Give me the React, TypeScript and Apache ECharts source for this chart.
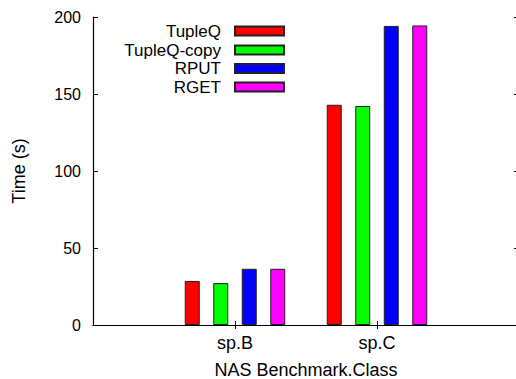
import React, { useEffect, useRef } from "react";
import * as echarts from "echarts";

const categories = ["sp.B", "sp.C"];
const seriesNames = ["TupleQ", "TupleQ-copy", "RPUT", "RGET"];
const tupleQ = [28.6, 143.0];
const tupleQCopy = [27.2, 142.2];
const rput = [36.5, 194.2];
const rget = [36.5, 194.5];
const yTicks = [0, 50, 100, 150, 200];
const colors = ["#ff0000", "#00ff00", "#0000ff", "#ff00ff"];

const FONT = "Liberation Sans";

export default function App() {
  const ref = useRef<HTMLDivElement>(null);
  useEffect(() => {
    if (!ref.current) return;
    const chart = echarts.init(ref.current, undefined, { renderer: "svg" });
    const cats = ["", ...categories, ""];
    const values = [tupleQ, tupleQCopy, rput, rget];
    const legendCenters = [31, 50, 68.5, 87];
    const tickShow = (_i: number, v: string) => v !== "";
    chart.setOption({
      animation: false,
      backgroundColor: "#ffffff",
      textStyle: { fontFamily: FONT },
      grid: { left: 93, top: 17, width: 426, height: 308, containLabel: false, outerBoundsMode: "none" },
      legend: seriesNames.map((n, i) => ({
        data: [n],
        right: 231,
        top: legendCenters[i] - 9,
        padding: 0,
        orient: "vertical",
        align: "right",
        icon: "rect",
        itemWidth: 49,
        itemHeight: 9,
        selectedMode: false,
        textStyle: { fontFamily: FONT, fontSize: 17, color: "#000", lineHeight: 18, padding: [0, 9, 0, 0] },
      })),
      xAxis: [
        {
          type: "category",
          data: cats,
          boundaryGap: false,
          position: "bottom",
          name: "NAS Benchmark.Class",
          nameLocation: "middle",
          nameGap: 37,
          nameTextStyle: { fontFamily: FONT, fontSize: 18, color: "#000", lineHeight: 16 },
          axisLine: { show: true, lineStyle: { color: "#000", width: 1.2 } },
          axisTick: { show: true, inside: true, length: 4, interval: tickShow, lineStyle: { color: "#000" } },
          axisLabel: { interval: 0, margin: 9, fontFamily: FONT, fontSize: 18, color: "#000" },
          splitLine: { show: false },
        },
        {
          type: "category",
          data: cats,
          boundaryGap: false,
          position: "top",
          axisLine: { show: true, lineStyle: { color: "#000", width: 1.2 } },
          axisTick: { show: true, inside: true, length: 4, interval: tickShow, lineStyle: { color: "#000" } },
          axisLabel: { show: false },
          splitLine: { show: false },
        },
      ],
      yAxis: [
        {
          type: "value",
          min: yTicks[0],
          max: yTicks[yTicks.length - 1],
          interval: 50,
          position: "left",
          name: "Time (s)",
          nameLocation: "middle",
          nameGap: 65,
          nameTextStyle: { fontFamily: FONT, fontSize: 18, color: "#000" },
          axisLine: { show: true, lineStyle: { color: "#000", width: 1.2 } },
          axisTick: { show: true, inside: true, length: 5, lineStyle: { color: "#000" } },
          axisLabel: { margin: 12, fontFamily: FONT, fontSize: 16, color: "#000" },
          splitLine: { show: false },
        },
        {
          type: "value",
          min: yTicks[0],
          max: yTicks[yTicks.length - 1],
          interval: 50,
          position: "right",
          axisLine: { show: true, lineStyle: { color: "#000", width: 1.2 } },
          axisTick: { show: true, inside: true, length: 5, lineStyle: { color: "#000" } },
          axisLabel: { show: false },
          splitLine: { show: false },
        },
      ],
      series: seriesNames.map((n, i) => ({
        name: n,
        type: "bar",
        xAxisIndex: 0,
        yAxisIndex: 0,
        barWidth: 15,
        barGap: "90%",
        data: [null, ...values[i], null],
        itemStyle: { color: colors[i], borderColor: "#222", borderWidth: 1 },
      })),
    });
    return () => chart.dispose();
  }, []);
  return (
    <div
      ref={ref}
      style={{ position: "fixed", left: 0, top: 0, width: 516, height: 379, background: "#fff" }}
    />
  );
}
